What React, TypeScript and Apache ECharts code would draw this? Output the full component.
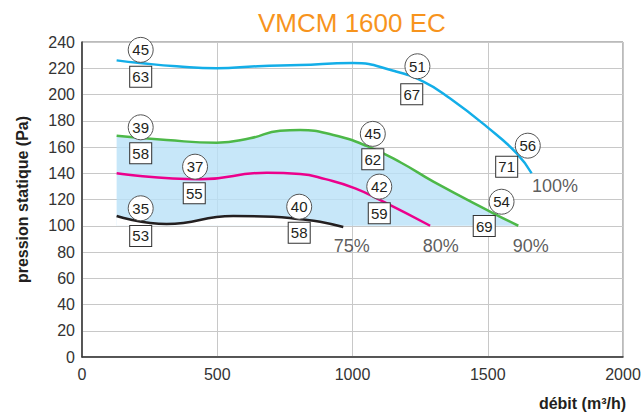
import React, { useEffect, useRef } from "react";
import * as echarts from "echarts";

const titleText = "VMCM 1600 EC";
const yAxisName = "pression statique (Pa)";
const xAxisName = "débit (m³/h)";

// curves [débit, pression]
const curve100: number[][] = [
  [128, 226], [214, 224], [350, 221.5], [498, 220], [650, 221.5], [806, 222.5],
  [1000, 224], [1151, 218.1], [1262, 209.8], [1360, 197.1],
  [1496, 175.5], [1607, 155.2], [1662, 140],
];
const curve90: number[][] = [
  [128, 168.5], [313, 165.3], [498, 163.3], [621, 166.6], [732, 172.4], [806, 172.9],
  [929, 169.1], [1052, 160.8], [1180, 148], [1299, 133.6], [1521, 109.5], [1613, 100],
];
const curve80: number[][] = [
  [128, 140], [436, 135.4], [683, 140.4], [806, 139.5], [900, 135.5],
  [1010, 128.5], [1114, 118.3], [1287, 100],
];
const curve75: number[][] = [
  [128, 107.4], [313, 101.3], [559, 107.4], [707, 106.9], [806, 104.9], [880, 103.1], [966, 99],
];

// circled labels [x, y, text]
const circleLabels: (number | string)[][] = [
  [217, 234, "45"], [1240, 221.5, "51"], [1648, 161, "56"],
  [217, 175, "39"], [1075, 170, "45"], [1551, 118.3, "54"],
  [418, 145, "37"], [1099, 129.8, "42"],
  [217, 113.3, "35"], [803, 114.5, "40"],
];
// boxed labels [x, y, text]
const boxLabels: (number | string)[][] = [
  [217, 213.6, "63"], [1219, 200.2, "67"], [1570, 145, "71"],
  [217, 155.2, "58"], [1075, 150.6, "62"], [1487, 99.8, "69"],
  [415, 124.7, "55"], [1099, 109.5, "59"],
  [217, 92.2, "53"], [803, 94.7, "58"],
];
// percent labels [x, y, text]
const percentLabels: (number | string)[][] = [
  [1749, 130.5, "100%"], [997, 84.6, "75%"], [1326, 84.6, "80%"], [1659, 84.6, "90%"],
];

const xTicks = { min: 0, max: 2000, interval: 500 };
const yTicks = { min: 0, max: 240, interval: 20 };

const FONT = "'Liberation Sans', Arial, Helvetica, sans-serif";

export default function App() {
  const ref = useRef<HTMLDivElement>(null);
  useEffect(() => {
    if (!ref.current) return;
    const chart = echarts.init(ref.current, null, { renderer: "svg" });
    const lineBase = {
      type: "line",
      smooth: 0.5,
      showSymbol: false,
      symbol: "none",
      silent: true,
    };
    chart.setOption({
      animation: false,
      textStyle: { fontFamily: FONT },
      title: {
        text: titleText,
        left: 258,
        top: 10,
        padding: 0,
        textStyle: { color: "#f7941d", fontSize: 26, fontWeight: "normal", fontFamily: FONT },
      },
      grid: {
        left: 82, right: 21, top: 42, bottom: 57,
        show: true, borderColor: "#777", borderWidth: 1, backgroundColor: "transparent",
      },
      xAxis: {
        type: "value",
        ...xTicks,
        axisLine: { show: true, lineStyle: { color: "#333", width: 1.5 } },
        axisTick: { show: false },
        axisLabel: {
          color: "#333", fontSize: 16, margin: 9, fontFamily: FONT,
          formatter: (v: number) => String(v),
        },
        splitLine: { show: true, lineStyle: { color: "#c8c8c8", width: 1 } },
      },
      yAxis: {
        type: "value",
        ...yTicks,
        name: yAxisName,
        nameLocation: "middle",
        nameGap: 52,
        nameTextStyle: { color: "#231f20", fontSize: 16, fontWeight: "bold", fontFamily: FONT },
        axisLine: { show: true, lineStyle: { color: "#333", width: 1.5 } },
        axisTick: { show: false },
        axisLabel: { color: "#333", fontSize: 16, margin: 7, fontFamily: FONT },
        splitLine: { show: true, lineStyle: { color: "#c8c8c8", width: 1 } },
      },
      graphic: [
        {
          type: "text",
          right: 18,
          top: 395,
          style: { text: xAxisName, fill: "#231f20", font: `bold 16px ${FONT}` },
        },
      ],
      series: [
        {
          ...lineBase,
          name: "90%",
          data: curve90,
          lineStyle: { color: "#4db848", width: 2.5 },
          areaStyle: { color: "#b9e1f7", opacity: 0.8, origin: 100 },
          z: 2,
        },
        {
          ...lineBase,
          name: "75%",
          data: curve75,
          lineStyle: { color: "#231f20", width: 2.5 },
          areaStyle: { color: "#ffffff", opacity: 1, origin: 100 },
          z: 3,
        },
        {
          ...lineBase,
          name: "80%",
          data: curve80,
          lineStyle: { color: "#ec008c", width: 2.5 },
          z: 4,
        },
        {
          ...lineBase,
          name: "100%",
          data: curve100,
          lineStyle: { color: "#13aee8", width: 2.5 },
          z: 4,
        },
        {
          type: "scatter",
          name: "circles",
          data: circleLabels,
          symbol: "circle",
          symbolSize: 25,
          itemStyle: { color: "#fff", borderColor: "#555", borderWidth: 1, opacity: 1 },
          label: {
            show: true, position: "inside", color: "#231f20", fontSize: 15, fontFamily: FONT,
            formatter: (p: any) => p.value[2],
          },
          z: 6,
        },
        {
          type: "scatter",
          name: "boxes",
          data: boxLabels,
          symbol: "rect",
          symbolSize: [22, 21],
          itemStyle: { color: "#fff", borderColor: "#333", borderWidth: 1, opacity: 1 },
          label: {
            show: true, position: "inside", color: "#231f20", fontSize: 15, fontFamily: FONT,
            formatter: (p: any) => p.value[2],
          },
          z: 6,
        },
        {
          type: "scatter",
          name: "percent",
          data: percentLabels,
          symbolSize: 1,
          itemStyle: { color: "rgba(0,0,0,0)" },
          label: {
            show: true, position: "inside", color: "#333", fontSize: 18, fontFamily: FONT,
            formatter: (p: any) => p.value[2],
          },
          z: 6,
        },
      ],
    });
    return () => chart.dispose();
  }, []);
  return <div ref={ref} style={{ width: 644, height: 414, position: "absolute", left: 0, top: 0 }} />;
}
